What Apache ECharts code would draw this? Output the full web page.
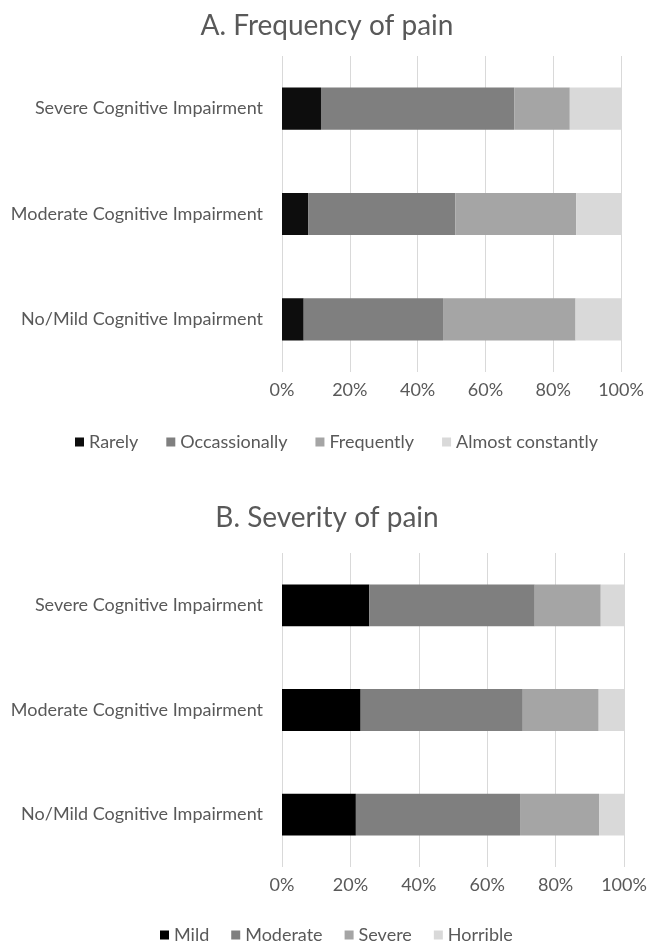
<!DOCTYPE html>
<html><head><meta charset="utf-8">
<script src="https://cdn.jsdelivr.net/npm/echarts@6/dist/echarts.min.js"></script>
<style>html,body{margin:0;padding:0;background:#fff}#c{width:654px;height:946px}</style>
</head><body><div id="c"></div>
<script>
const categories = ['No/Mild Cognitive Impairment','Moderate Cognitive Impairment','Severe Cognitive Impairment'];
const xTicks = [0,20,40,60,80,100];
// Panel A: Frequency of pain (%)
const freqNames = ['Rarely','Occassionally','Frequently','Almost constantly'];
const rarely = [6.4, 7.7, 11.5];
const occasionally = [41.1, 43.4, 57.0];
const frequently = [39.1, 35.7, 16.4];
const almostConstantly = [13.4, 13.2, 15.1];
// Panel B: Severity of pain (%)
const sevNames = ['Mild','Moderate','Severe','Horrible'];
const mild = [21.6, 23.0, 25.5];
const moderate = [48.0, 47.4, 48.4];
const severe = [23.1, 22.2, 19.3];
const horrible = [7.3, 7.4, 6.8];

const colorsA = ['#0d0d0d','#7f7f7f','#a5a5a5','#d9d9d9'];
const colorsB = ['#000000','#7f7f7f','#a5a5a5','#d9d9d9'];
const FONT = 'Lato';
const TXT = '#595959';

function xAx(gi){return {gridIndex:gi,type:'value',min:xTicks[0],max:xTicks[xTicks.length-1],interval:20,
  axisLine:{show:false},axisTick:{show:false},
  splitLine:{show:true,lineStyle:{color:'#d9d9d9',width:1}},
  axisLabel:{formatter:'{value}%',color:TXT,fontFamily:FONT,fontSize:18,margin:9}};}
function yAx(gi){return {gridIndex:gi,type:'category',data:categories,
  axisLine:{show:false},axisTick:{show:false},
  axisLabel:{color:TXT,fontFamily:FONT,fontSize:18,margin:19}};}
function ser(name,data,gi,color,stack){return {name,type:'bar',stack,xAxisIndex:gi,yAxisIndex:gi,data,barWidth:'40%',
  itemStyle:{color},emphasis:{disabled:true}};}

const chart = echarts.init(document.getElementById('c'),null,{renderer:'canvas'});
chart.setOption({
  animation:false,
  title:[
    {text:'A. Frequency of pain',left:'center',top:7,textStyle:{color:TXT,fontFamily:FONT,fontSize:28,fontWeight:'normal'}},
    {text:'B. Severity of pain',left:'center',top:499,textStyle:{color:TXT,fontFamily:FONT,fontSize:28,fontWeight:'normal'}}
  ],
  legend:[
    {data:freqNames,left:70,top:428,icon:'rect',itemWidth:9,itemHeight:9,itemGap:28,
     textStyle:{color:TXT,fontFamily:FONT,fontSize:18}},
    {data:sevNames,left:155,top:921,icon:'rect',itemWidth:9,itemHeight:9,itemGap:22,
     textStyle:{color:TXT,fontFamily:FONT,fontSize:18}}
  ],
  grid:[
    {left:282,right:33,top:56,height:316},
    {left:282,right:30,top:553,height:314}
  ],
  xAxis:[xAx(0),xAx(1)],
  yAxis:[yAx(0),yAx(1)],
  series:[
    ser(freqNames[0],rarely,0,colorsA[0],'a'),
    ser(freqNames[1],occasionally,0,colorsA[1],'a'),
    ser(freqNames[2],frequently,0,colorsA[2],'a'),
    ser(freqNames[3],almostConstantly,0,colorsA[3],'a'),
    ser(sevNames[0],mild,1,colorsB[0],'b'),
    ser(sevNames[1],moderate,1,colorsB[1],'b'),
    ser(sevNames[2],severe,1,colorsB[2],'b'),
    ser(sevNames[3],horrible,1,colorsB[3],'b')
  ]
});
</script></body></html>
